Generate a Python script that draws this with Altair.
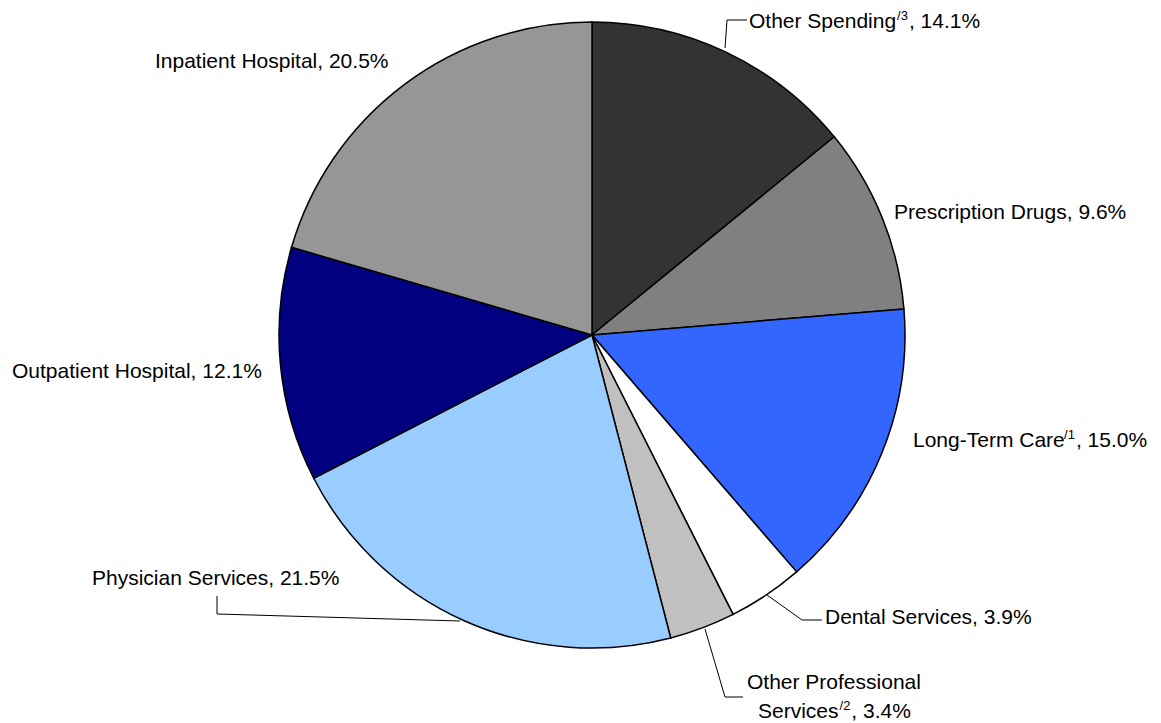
import altair as alt
import pandas as pd

# ---- data ----
categories = ["Other Spending", "Prescription Drugs", "Long-Term Care", "Dental Services",
              "Other Professional Services", "Physician Services", "Outpatient Hospital",
              "Inpatient Hospital"]
shares = [14.1, 9.6, 15.0, 3.9, 3.4, 21.5, 12.1, 20.5]
colors = ["#333333", "#808080", "#3366FF", "#FFFFFF", "#C0C0C0", "#99CCFF", "#000080", "#969696"]

FONT = "Liberation Sans"
MAIN = 21
SUP = 13
OFF = 8  # page margin

# Arial / Liberation Sans advance widths (per 1000 em)
W = {"O": 778, "t": 278, "h": 556, "e": 556, "r": 333, " ": 278, "S": 667, "p": 556, "n": 556,
     "d": 556, "i": 222, "g": 556, "/": 278, ",": 278, ".": 278, "%": 889, "L": 556, "o": 556,
     "-": 333, "T": 611, "m": 833, "C": 722, "a": 556, "v": 500, "c": 500, "s": 500}
for dgt in "0123456789":
    W[dgt] = 556


def tw(s, size):
    return sum(W.get(ch, 556) for ch in s) * size / 1000.0


pie = pd.DataFrame({"cat": categories, "value": shares, "idx": list(range(len(categories)))})

arc = alt.Chart(pie).mark_arc(stroke="black", strokeWidth=1.5, outerRadius=313).encode(
    theta=alt.Theta("value:Q", stack=True),
    color=alt.Color("cat:N", scale=alt.Scale(domain=categories, range=colors), legend=None),
    order=alt.Order("idx:Q"),
    x=alt.value(592 - OFF),
    y=alt.value(335 - OFF),
)

# ---- leader lines (page coordinates) ----
leaders = {
    "os": [(725, 48), (727, 20), (747, 20)],
    "den": [(767, 595), (802, 620), (822, 620)],
    "op": [(705, 629), (725, 697), (743, 697)],
    "phy": [(460, 621), (217, 614), (217, 596)],
}
rows = []
for g, pts in leaders.items():
    for i, (px, py) in enumerate(pts):
        rows.append({"g": g, "i": i, "x": px - OFF, "y": py - OFF})
lines = alt.Chart(pd.DataFrame(rows)).mark_line(color="black", strokeWidth=1).encode(
    x=alt.X("x:Q", scale=None, axis=None),
    y=alt.Y("y:Q", scale=None, axis=None),
    detail="g:N",
    order="i:Q",
)

# ---- labels ----
main_rows = []
sup_rows = []


def add_plain(text, x, y):
    main_rows.append({"t": text, "x": x - OFF, "y": y - OFF})


def add_sup(head, sup, tail, x, y, kern=0.0):
    main_rows.append({"t": head, "x": x - OFF, "y": y - OFF})
    sx = x + tw(head, MAIN) + 1 - kern
    sup_rows.append({"t": sup, "x": sx - OFF, "y": y - 8 - OFF})
    rx = sx + tw(sup, SUP) + 1
    main_rows.append({"t": tail, "x": rx - OFF, "y": y - OFF})


add_sup("Other Spending", "/3", ", 14.1%", 749, 28)
add_plain("Prescription Drugs, 9.6%", 894, 219)
add_sup("Long-Term Care", "/1", ", 15.0%", 913, 447, kern=4)
add_plain("Dental Services, 3.9%", 825, 624)
add_plain("Other Professional", 747, 689)
add_sup("Services", "/2", ", 3.4%", 758, 718)
add_plain("Physician Services, 21.5%", 92, 585)
add_plain("Outpatient Hospital, 12.1%", 12, 378)
add_plain("Inpatient Hospital, 20.5%", 155, 68)

main_text = alt.Chart(pd.DataFrame(main_rows)).mark_text(
    align="left", baseline="alphabetic", font=FONT, fontSize=MAIN, color="black"
).encode(x=alt.X("x:Q", scale=None, axis=None), y=alt.Y("y:Q", scale=None, axis=None), text="t:N")

sup_text = alt.Chart(pd.DataFrame(sup_rows)).mark_text(
    align="left", baseline="alphabetic", font=FONT, fontSize=SUP, color="black"
).encode(x=alt.X("x:Q", scale=None, axis=None), y=alt.Y("y:Q", scale=None, axis=None), text="t:N")

chart = alt.layer(arc, lines, main_text, sup_text).properties(
    width=1145, height=715, padding=0, background="white",
    autosize=alt.AutoSizeParams(type="none")
).configure_view(stroke=None)

chart.save("out.html", embed_options={"renderer": "svg", "actions": False})
